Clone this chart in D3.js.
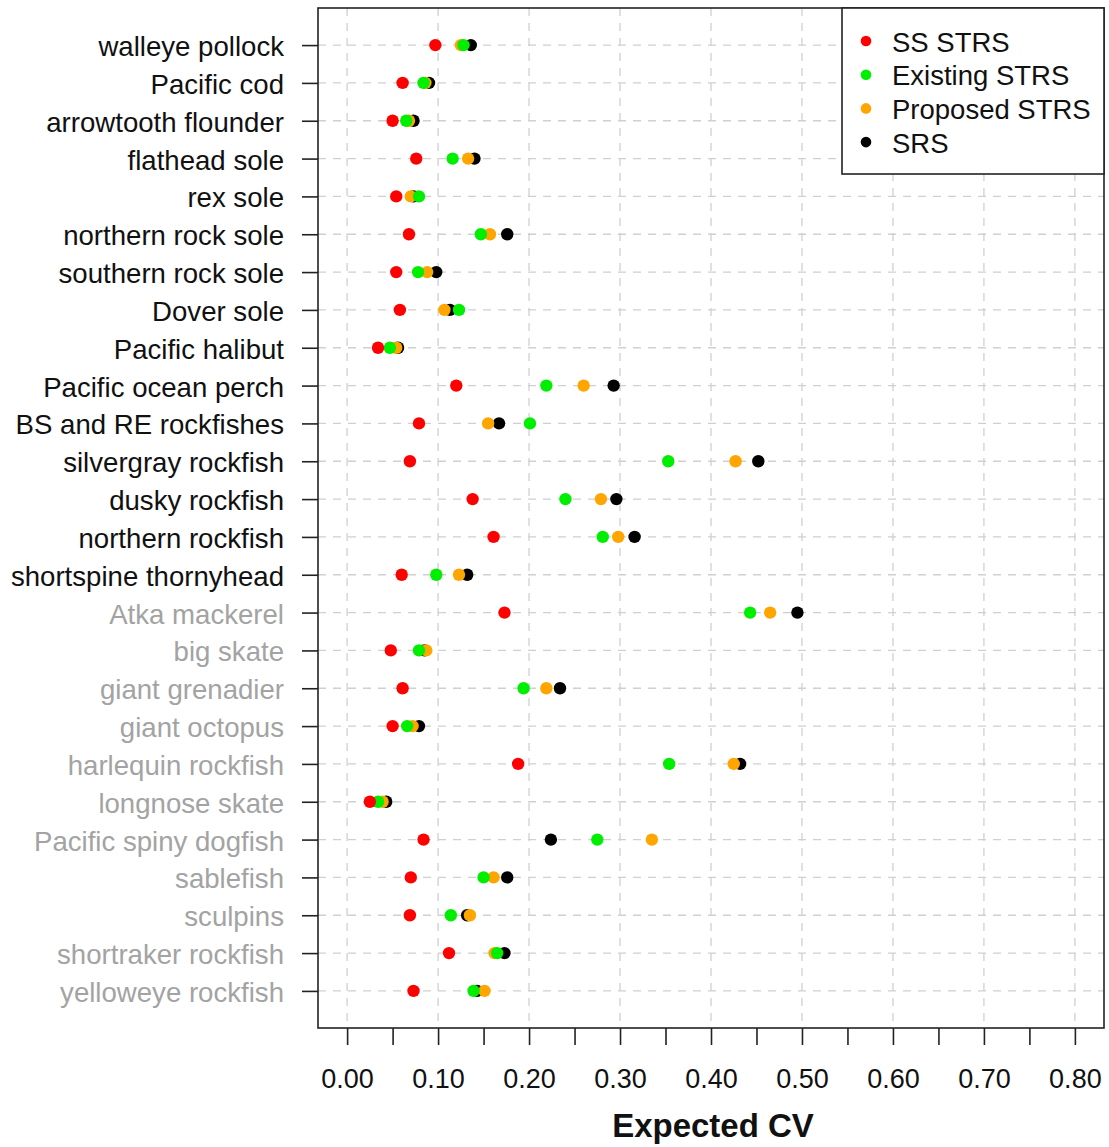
<!DOCTYPE html>
<html>
<head>
<meta charset="utf-8">
<script src="https://cdn.jsdelivr.net/npm/d3@7"></script>
<style>
  body { margin: 0; background: #fff; }
  text { font-family: "Liberation Sans", Arial, sans-serif; }
</style>
</head>
<body>
<svg id="chart"></svg>
<script>
// Species (top to bottom); the first 15 are drawn in black, the rest in gray
var species = ['walleye pollock', 'Pacific cod', 'arrowtooth flounder', 'flathead sole', 'rex sole',
    'northern rock sole', 'southern rock sole', 'Dover sole', 'Pacific halibut', 'Pacific ocean perch',
    'BS and RE rockfishes', 'silvergray rockfish', 'dusky rockfish', 'northern rockfish', 'shortspine thornyhead',
    'Atka mackerel', 'big skate', 'giant grenadier', 'giant octopus', 'harlequin rockfish',
    'longnose skate', 'Pacific spiny dogfish', 'sablefish', 'sculpins', 'shortraker rockfish', 'yelloweye rockfish'];
var nBlack = 15;

// Expected CV per design
var ssStrs = [0.097, 0.061, 0.050, 0.076, 0.054, 0.068, 0.054, 0.058, 0.034, 0.120,
    0.079, 0.069, 0.138, 0.161, 0.060, 0.173, 0.048, 0.061, 0.050, 0.188,
    0.025, 0.084, 0.070, 0.069, 0.112, 0.073];
var existingStrs = [0.128, 0.084, 0.065, 0.116, 0.079, 0.147, 0.078, 0.123, 0.047, 0.219,
    0.201, 0.353, 0.240, 0.281, 0.098, 0.443, 0.079, 0.194, 0.066, 0.354,
    0.034, 0.275, 0.150, 0.114, 0.165, 0.139];
var proposedStrs = [0.125, 0.086, 0.068, 0.133, 0.070, 0.157, 0.088, 0.107, 0.054, 0.260,
    0.155, 0.427, 0.279, 0.298, 0.123, 0.465, 0.087, 0.219, 0.072, 0.425,
    0.039, 0.335, 0.161, 0.135, 0.162, 0.151];
var srs = [0.136, 0.090, 0.073, 0.140, 0.073, 0.176, 0.098, 0.113, 0.056, 0.293,
    0.167, 0.452, 0.296, 0.316, 0.132, 0.495, 0.085, 0.234, 0.079, 0.432,
    0.043, 0.224, 0.176, 0.132, 0.173, 0.143];

var xTicks = [0, 0.05, 0.1, 0.15, 0.2, 0.25, 0.3, 0.35, 0.4, 0.45, 0.5, 0.55, 0.6, 0.65, 0.7, 0.75, 0.8];
var xGrid = [0, 0.1, 0.2, 0.3, 0.4, 0.5, 0.6, 0.7, 0.8];

// legend order; drawing order is reversed so SS STRS sits on top
var seriesNames = ['SS STRS', 'Existing STRS', 'Proposed STRS', 'SRS'];
var seriesColors = ['#ff0000', '#00ee00', '#ffa500', '#000000'];
var seriesValues = [ssStrs, existingStrs, proposedStrs, srs];

var svgWidth = 1109, svgHeight = 1147;
var margin = { left: 318, right: 1104, top: 8, bottom: 1028 };

var svg = d3.select('#chart').attr('width', svgWidth).attr('height', svgHeight);

var x = d3.scaleLinear().domain([-0.032, 0.832]).range([margin.left, margin.right]);
var y = d3.scaleLinear().domain([-0.98, 25.98]).range([margin.top, margin.bottom]);

// grid lines
svg.append('g').selectAll('line')
    .data(xGrid)
  .enter().append('line')
    .attr('x1', d => x(d)).attr('x2', d => x(d))
    .attr('y1', margin.top).attr('y2', margin.bottom)
    .attr('stroke', '#d0d0d0').attr('stroke-width', 1.3)
    .attr('stroke-dasharray', '8,7');

svg.append('g').selectAll('line')
    .data(species)
  .enter().append('line')
    .attr('x1', margin.left).attr('x2', margin.right)
    .attr('y1', (d, i) => y(i)).attr('y2', (d, i) => y(i))
    .attr('stroke', '#d0d0d0').attr('stroke-width', 1.3)
    .attr('stroke-dasharray', '8,7');

// points, SRS first so SS STRS ends up on top
for (var s = seriesValues.length - 1; s >= 0; s--) {
    svg.append('g').selectAll('circle')
        .data(seriesValues[s])
      .enter().append('circle')
        .attr('cx', d => x(d))
        .attr('cy', (d, i) => y(i))
        .attr('r', 6.2)
        .attr('fill', seriesColors[s]);
}

// plot box
svg.append('rect')
    .attr('x', margin.left).attr('y', margin.top)
    .attr('width', margin.right - margin.left).attr('height', margin.bottom - margin.top)
    .attr('fill', 'none').attr('stroke', '#222').attr('stroke-width', 1.6);

// x axis
var xAxis = d3.axisBottom(x)
    .tickValues(xTicks)
    .tickSize(17)
    .tickPadding(24)
    .tickFormat(d => (Math.round(d * 100) % 10 === 0) ? d.toFixed(2) : '');
var gx = svg.append('g')
    .attr('transform', 'translate(0,' + margin.bottom + ')')
    .call(xAxis);
gx.select('.domain').remove();
gx.selectAll('.tick line').attr('stroke', '#222').attr('stroke-width', 1.6);
gx.selectAll('.tick text')
    .style('font-size', '27px')
    .attr('fill', '#111')
    .attr('font-family', '"Liberation Sans", Arial, sans-serif');

// y axis
var yAxis = d3.axisLeft(y)
    .tickValues(d3.range(species.length))
    .tickSize(16)
    .tickPadding(18)
    .tickFormat(i => species[i]);
var gy = svg.append('g')
    .attr('transform', 'translate(' + margin.left + ',0)')
    .call(yAxis);
gy.select('.domain').remove();
gy.selectAll('.tick line').attr('stroke', '#222').attr('stroke-width', 1.6);
gy.selectAll('.tick text')
    .style('font-size', '27.6px')
    .attr('dy', '0.38em')
    .attr('font-family', '"Liberation Sans", Arial, sans-serif')
    .attr('fill', i => i < nBlack ? '#111' : '#a3a3a3');

// x label
svg.append('text')
    .attr('x', (margin.left + margin.right) / 2 + 2)
    .attr('y', 1137)
    .attr('text-anchor', 'middle')
    .style('font-size', '33px')
    .style('font-weight', 'bold')
    .attr('fill', '#111')
    .text('Expected CV');

// legend
var legend = svg.append('g');
legend.append('rect')
    .attr('x', 842).attr('y', margin.top)
    .attr('width', margin.right - 842).attr('height', 174 - margin.top)
    .attr('fill', '#fff').attr('stroke', '#222').attr('stroke-width', 1.6);

var items = legend.selectAll('.item')
    .data(seriesNames)
  .enter().append('g')
    .attr('class', 'item')
    .attr('transform', (d, i) => 'translate(866,' + (41 + i * 33.7) + ')');
items.append('circle')
    .attr('r', 5.3)
    .attr('fill', (d, i) => seriesColors[i]);
items.append('text')
    .attr('x', 26)
    .attr('y', 10.5)
    .style('font-size', '27.5px')
    .attr('fill', '#111')
    .text(d => d);
</script>
</body>
</html>
